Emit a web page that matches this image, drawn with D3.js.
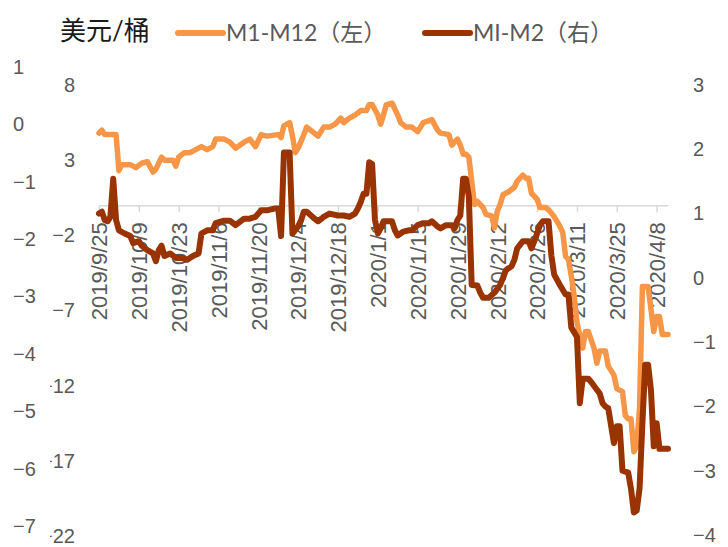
<!DOCTYPE html>
<html>
<head>
<meta charset="utf-8">
<script src="https://cdn.jsdelivr.net/npm/d3@7"></script>
<style>
  body { margin: 0; background: #fff; }
  svg { font-family: "Lato", "Noto Sans CJK SC", sans-serif; }
  .axis text { fill: #595959; font-size: 20px; }
  .axis.x text { font-size: 22px; }
</style>
</head>
<body>
<div id="chart"></div>
<script>
// M1-M12 (left axis)
var m1m12Dates = ["2019-09-25","2019-09-26","2019-09-27","2019-09-30","2019-10-01","2019-10-02","2019-10-03","2019-10-06","2019-10-08","2019-10-10",
  "2019-10-12","2019-10-14","2019-10-15","2019-10-17","2019-10-18","2019-10-21","2019-10-22","2019-10-23","2019-10-25","2019-10-27",
  "2019-10-29","2019-10-31","2019-11-02","2019-11-04","2019-11-05","2019-11-08","2019-11-10","2019-11-12","2019-11-15","2019-11-17",
  "2019-11-19","2019-11-21","2019-11-23","2019-11-27","2019-11-28","2019-11-29","2019-12-01","2019-12-02","2019-12-03","2019-12-04",
  "2019-12-06","2019-12-07","2019-12-09","2019-12-11","2019-12-13","2019-12-15","2019-12-17","2019-12-19","2019-12-20","2019-12-22",
  "2019-12-24","2019-12-26","2019-12-28","2019-12-29","2019-12-30","2020-01-01","2020-01-02","2020-01-03","2020-01-04","2020-01-06",
  "2020-01-08","2020-01-09","2020-01-11","2020-01-13","2020-01-15","2020-01-16","2020-01-17","2020-01-20","2020-01-22","2020-01-23",
  "2020-01-26","2020-01-27","2020-01-29","2020-01-30","2020-01-31","2020-02-01","2020-02-02","2020-02-03","2020-02-04","2020-02-05",
  "2020-02-07","2020-02-08","2020-02-10","2020-02-11","2020-02-12","2020-02-13","2020-02-14","2020-02-16","2020-02-18","2020-02-19",
  "2020-02-21","2020-02-22","2020-02-23","2020-02-24","2020-02-26","2020-02-27","2020-02-29","2020-03-01","2020-03-03","2020-03-05",
  "2020-03-06","2020-03-07","2020-03-08","2020-03-09","2020-03-10","2020-03-11","2020-03-13","2020-03-14","2020-03-15","2020-03-17",
  "2020-03-18","2020-03-19","2020-03-21","2020-03-22","2020-03-24","2020-03-25","2020-03-27","2020-03-28","2020-03-29","2020-03-30",
  "2020-03-31","2020-04-01","2020-04-02","2020-04-03","2020-04-05","2020-04-06","2020-04-07","2020-04-08","2020-04-09","2020-04-10",
  "2020-04-12"];
var m1m12Values = [4.8,5.0,4.7,4.7,4.7,2.3,2.7,2.7,2.5,2.8,
  2.9,2.2,2.4,3.2,3.0,3.0,2.6,3.2,3.5,3.5,
  3.7,3.9,3.7,3.9,4.4,4.4,4.2,3.8,4.2,4.4,
  3.9,4.7,4.6,4.7,4.5,5.3,5.5,4.6,3.5,3.8,
  4.7,5.2,4.9,4.6,5.2,5.2,5.4,5.8,5.5,5.8,
  6.0,6.3,6.3,6.7,6.7,6.0,5.4,6.0,6.7,6.8,
  6.0,5.5,5.2,5.2,4.9,5.2,5.5,5.7,5.0,4.8,
  4.7,4.0,4.4,4.0,3.4,3.4,3.2,1.6,0.05,0.25,
  -0.15,-0.6,-0.7,-1.5,-0.4,0.05,0.7,0.9,1.2,1.6,
  2.0,1.8,1.8,0.8,0.4,-0.15,-0.15,-0.3,-0.75,-1.4,
  -1.8,-3.4,-3.6,-4.7,-6.0,-7.8,-9.5,-8.4,-8.4,-9.5,
  -10.5,-9.7,-9.7,-10.7,-11.3,-12.2,-12.4,-14.0,-14.2,-14.2,
  -16.4,-16.0,-13.5,-5.4,-5.4,-6.9,-8.4,-7.4,-7.4,-8.6,
  -8.6];

// MI-M2 (right axis)
var m1m2Dates = ["2019-09-25","2019-09-26","2019-09-27","2019-09-28","2019-09-29","2019-09-30","2019-10-01","2019-10-02","2019-10-04","2019-10-06",
  "2019-10-07","2019-10-09","2019-10-10","2019-10-12","2019-10-14","2019-10-15","2019-10-16","2019-10-17","2019-10-18","2019-10-20",
  "2019-10-22","2019-10-24","2019-10-26","2019-10-28","2019-10-30","2019-10-31","2019-11-02","2019-11-04","2019-11-05","2019-11-08",
  "2019-11-10","2019-11-12","2019-11-15","2019-11-17","2019-11-19","2019-11-21","2019-11-23","2019-11-26","2019-11-27","2019-11-28",
  "2019-11-29","2019-12-01","2019-12-02","2019-12-04","2019-12-05","2019-12-06","2019-12-07","2019-12-09","2019-12-11","2019-12-13",
  "2019-12-15","2019-12-18","2019-12-20","2019-12-22","2019-12-24","2019-12-25","2019-12-26","2019-12-27","2019-12-28","2019-12-29",
  "2019-12-30","2019-12-31","2020-01-01","2020-01-02","2020-01-03","2020-01-06","2020-01-07","2020-01-08","2020-01-10","2020-01-12",
  "2020-01-13","2020-01-15","2020-01-17","2020-01-19","2020-01-20","2020-01-22","2020-01-23","2020-01-25","2020-01-27","2020-01-28",
  "2020-01-29","2020-01-30","2020-01-31","2020-02-01","2020-02-02","2020-02-03","2020-02-05","2020-02-06","2020-02-07","2020-02-09",
  "2020-02-11","2020-02-13","2020-02-14","2020-02-15","2020-02-17","2020-02-18","2020-02-19","2020-02-21","2020-02-23","2020-02-24",
  "2020-02-25","2020-02-26","2020-02-27","2020-02-28","2020-03-01","2020-03-02","2020-03-03","2020-03-05","2020-03-07","2020-03-08",
  "2020-03-09","2020-03-11","2020-03-12","2020-03-13","2020-03-15","2020-03-16","2020-03-18","2020-03-19","2020-03-20","2020-03-21",
  "2020-03-22","2020-03-24","2020-03-25","2020-03-26","2020-03-27","2020-03-29","2020-03-30","2020-03-31","2020-04-01","2020-04-02",
  "2020-04-03","2020-04-04","2020-04-05","2020-04-06","2020-04-07","2020-04-08","2020-04-09","2020-04-12"];
var m1m2Values = [1.0,1.03,0.9,0.88,0.95,1.54,0.9,0.74,0.69,0.65,
  0.54,0.57,0.5,0.43,0.38,0.26,0.43,0.5,0.34,0.38,
  0.31,0.31,0.28,0.34,0.38,0.69,0.74,0.74,0.85,0.89,
  0.89,0.82,0.92,0.92,0.95,1.05,1.05,1.08,1.08,0.65,
  1.95,1.95,0.69,0.8,0.89,1.03,1.03,0.95,0.88,0.95,
  1.0,0.97,0.97,0.95,1.0,1.08,1.18,1.31,1.31,1.8,
  1.77,0.9,0.69,0.77,0.88,0.88,0.74,0.66,0.72,0.74,
  0.74,0.82,0.85,0.85,0.88,0.8,0.77,0.82,0.82,0.77,
  0.9,0.97,1.54,1.54,1.26,-0.11,-0.12,-0.23,-0.31,-0.31,
  -0.23,-0.11,0.0,0.12,0.18,0.28,0.46,0.57,0.57,0.46,
  0.57,0.69,0.82,0.88,0.88,0.35,0.05,-0.11,-0.26,-0.26,
  -0.77,-0.92,-1.95,-1.57,-1.57,-1.62,-1.74,-1.8,-1.95,-2.0,
  -2.03,-2.57,-2.31,-2.31,-3.0,-3.03,-3.28,-3.65,-3.62,-3.28,
  -2.26,-1.35,-1.35,-1.74,-2.62,-2.26,-2.66,-2.66];

var xTickDates = ["2019-09-25","2019-10-09","2019-10-23","2019-11-06","2019-11-20","2019-12-04","2019-12-18",
  "2020-01-01","2020-01-15","2020-01-29","2020-02-12","2020-02-26","2020-03-11","2020-03-25","2020-04-08"];
var leftTicks = [8, 3, -2, -7, -12, -17, -22];
var rightTicks = [3, 2, 1, 0, -1, -2, -3, -4];
var outerTicks = [1, 0, -1, -2, -3, -4, -5, -6, -7];

var seriesNames = ["M1-M12（左）", "MI-M2（右）"];
var seriesColors = ["#F79646", "#993300"];

var width = 728, height = 547;
var parse = d3.timeParse("%Y-%m-%d");

var svg = d3.select("#chart").append("svg")
    .attr("width", width)
    .attr("height", height);

var x = d3.scaleTime()
    .domain([parse("2019-09-25"), parse("2020-04-12")])
    .range([99, 668]);
var yL = d3.scaleLinear().domain([8, -22]).range([85, 536]);
var yR = d3.scaleLinear().domain([3, -4]).range([85, 535]);
var yOuter = d3.scaleLinear().domain([1, -7]).range([67, 526]);

// x axis crosses the left axis at 0
var xAxis = svg.append("g")
    .attr("class", "axis x")
    .attr("transform", "translate(0," + yL(0) + ")")
    .call(d3.axisBottom(x)
        .tickValues(xTickDates.map(parse))
        .tickSize(7)
        .tickSizeOuter(0)
        .tickFormat(d3.timeFormat("%Y/%-m/%-d")));
xAxis.select(".domain").attr("stroke", "#D9D9D9").attr("stroke-width", 1.5);
xAxis.selectAll(".tick line").attr("stroke", "#D9D9D9").attr("stroke-width", 1.5);
xAxis.selectAll(".tick text")
    .attr("x", 0)
    .attr("y", 0)
    .attr("dy", "0.35em")
    .attr("text-anchor", "end")
    .attr("transform", "translate(0,17) rotate(-90)");

var leftAxis = svg.append("g")
    .attr("class", "axis")
    .attr("transform", "translate(75,0)")
    .call(d3.axisLeft(yL).tickValues(leftTicks).tickSize(0).tickPadding(0));
leftAxis.select(".domain").remove();

var rightAxis = svg.append("g")
    .attr("class", "axis")
    .attr("transform", "translate(693,0)")
    .call(d3.axisRight(yR).tickValues(rightTicks).tickSize(0).tickPadding(0)
        .tickFormat(d3.format("d")));
rightAxis.select(".domain").remove();

// the stray outer axis sits over the left edge and hides most minus signs below it
svg.append("rect")
    .attr("x", 0).attr("y", 365)
    .attr("width", 50).attr("height", height - 365)
    .attr("fill", "#fff");

var outerAxis = svg.append("g")
    .attr("class", "axis")
    .attr("transform", "translate(13,0)")
    .call(d3.axisRight(yOuter).tickValues(outerTicks).tickSize(0).tickPadding(0));
outerAxis.select(".domain").remove();

// lines
var lineL = d3.line()
    .x(function(d) { return x(d[0]); })
    .y(function(d) { return yL(d[1]); });
var lineR = d3.line()
    .x(function(d) { return x(d[0]); })
    .y(function(d) { return yR(d[1]); });

svg.append("path")
    .datum(m1m12Dates.map(function(d, i) { return [parse(d), m1m12Values[i]]; }))
    .attr("fill", "none")
    .attr("stroke", seriesColors[0])
    .attr("stroke-width", 5.5)
    .attr("stroke-linejoin", "round")
    .attr("stroke-linecap", "round")
    .attr("d", lineL);

svg.append("path")
    .datum(m1m2Dates.map(function(d, i) { return [parse(d), m1m2Values[i]]; }))
    .attr("fill", "none")
    .attr("stroke", seriesColors[1])
    .attr("stroke-width", 6)
    .attr("stroke-linejoin", "round")
    .attr("stroke-linecap", "round")
    .attr("d", lineR);

// title + legend
svg.append("text")
    .attr("x", 60)
    .attr("y", 40)
    .attr("font-size", 26)
    .attr("fill", "#1a1a1a")
    .text("美元/桶");

var legendX = [178, 425];
var legend = svg.selectAll(".legend")
    .data(seriesNames)
    .enter().append("g")
    .attr("class", "legend")
    .attr("transform", function(d, i) { return "translate(" + legendX[i] + ",33)"; });
legend.append("line")
    .attr("x1", 0).attr("x2", 45)
    .attr("stroke", function(d, i) { return seriesColors[i]; })
    .attr("stroke-width", 6)
    .attr("stroke-linecap", "round");
legend.append("text")
    .attr("x", 48)
    .attr("dy", "0.35em")
    .attr("font-size", 23)
    .attr("fill", "#595959")
    .text(function(d) { return d; });
</script>
</body>
</html>
